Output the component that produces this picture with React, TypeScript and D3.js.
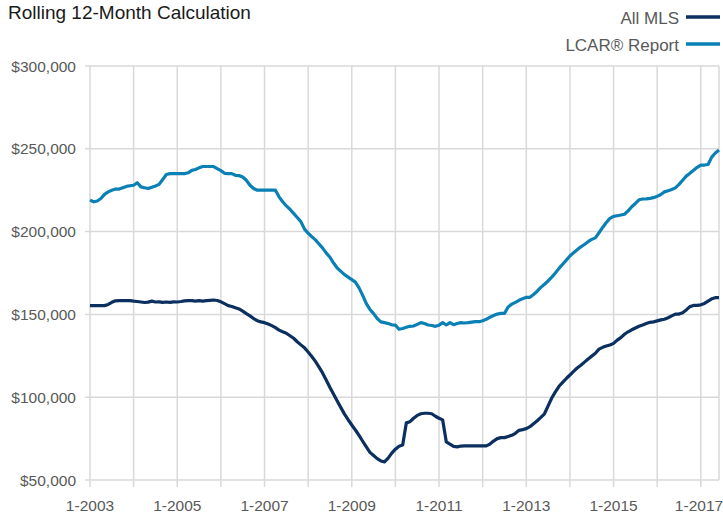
import { useEffect, useRef } from "react";
import * as d3 from "d3";

// monthly rolling 12-month values, 1-2003 .. 6-2017 (thousands of $)
const startYear = 2003;

const allMls = [
  155.3, 155.3, 155.3, 155.3, 155.3, 156, 157.3, 158.2, 158.3, 158.3, 158.3, 158.3,
  158, 157.8, 157.5, 157.2, 157.4, 158, 157.5, 157.6, 157.3, 157.5, 157.3, 157.6,
  157.5, 157.8, 158.2, 158.3, 158.3, 158, 158.3, 158, 158.3, 158.5, 158.7, 158.4,
  157.6, 156.5, 155.3, 154.8, 154, 153.3, 152, 150.5, 149.1, 147.5, 146.2, 145.5,
  145, 144.2, 143.2, 142, 140.5, 139.5, 138.6, 137.1, 135.6, 133.5, 131.6, 129.8,
  127.3, 124.6, 121.6, 118.2, 114.5, 110.3, 105.9, 101.8, 97.7, 93.7, 89.8, 86.4,
  83.2, 80.2, 76.9, 73.4, 70, 66.7, 64.8, 62.9, 61.5, 60.9, 63.2, 66.2,
  68.6, 70.4, 71.1, 84.5, 85.2, 87.3, 89, 90, 90.3, 90.3, 90, 88.5,
  87.3, 86.3, 73, 71.7, 70.3, 70, 70.5, 70.6, 70.6, 70.6, 70.6, 70.6,
  70.6, 70.6, 71.7, 73.5, 75, 75.6, 75.6, 76.3, 77, 78.2, 80, 80.4,
  81, 82.2, 84, 85.8, 87.8, 90, 94.8, 99.5, 103.2, 106.6, 109, 111.3,
  113.4, 115.6, 117.6, 119.3, 121.2, 123.1, 124.8, 126.5, 129, 130.1, 130.9, 131.5,
  132.5, 134.5, 136, 138, 139.5, 140.7, 141.8, 142.8, 143.6, 144.5, 145.2, 145.5,
  146.1, 146.7, 147.1, 148, 149.1, 150.2, 150.2, 151, 152.7, 154.7, 155.4, 155.5,
  155.8, 156.6, 158, 159.4, 160.1, 160.1
];

const lcarReport = [
  219, 218, 218.5, 220, 222.5, 224, 225, 225.7, 225.7, 226.5, 227.3, 227.7,
  228, 229.5, 227, 226.5, 226, 226.8, 227.5, 228.5, 231.5, 234.5, 235, 235,
  235, 235, 235, 235.5, 237, 237.5, 238.5, 239.3, 239.3, 239.3, 239.3, 238,
  236.8, 235.2, 235, 235, 234, 233.8, 233, 231, 228, 226, 225, 225,
  225, 225, 225, 225, 221, 218, 215.5, 213.5, 211, 208.5, 206, 201.5,
  199, 197, 195, 192.5, 190, 187, 184.5, 181, 178, 176, 174, 172.5,
  171, 169.5, 166, 161.5, 156.5, 153, 150.5, 147.5, 145.5, 145, 144.5, 143.7,
  143.5, 141, 141.5, 142.2, 142.8, 143, 144, 145, 144.5, 143.6, 143.3, 142.8,
  143.5, 145, 143.6, 145, 143.8, 144.5, 145, 144.8, 145, 145.3, 145.6, 145.6,
  146.2, 147, 148.3, 149.3, 150.2, 150.6, 150.6, 154.5, 156.2, 157.3, 158.5, 159.5,
  160.3, 160.3, 162, 164, 166.3, 168.2, 170.2, 172.5, 175, 177.8, 180.3, 182.8,
  185.3, 187.2, 189, 190.8, 192.2, 193.9, 195.3, 196.2, 199.3, 202.5, 205.5, 208,
  209.2, 209.6, 210, 210.5, 212.5, 215, 217, 219.2, 219.7, 219.8, 220.1, 220.5,
  221.3, 222.4, 224, 224.7, 225.4, 226.4, 228.5, 231, 233.5, 235.2, 237, 238.8,
  240.2, 240.2, 240.5, 245, 247.5, 249.3
];

const yTicks = [50000, 100000, 150000, 200000, 250000, 300000];
const xLabelYears = [2003, 2005, 2007, 2009, 2011, 2013, 2015, 2017];

const series = [
  { name: "All MLS", values: allMls, color: "#0b2f5f" },
  { name: "LCAR® Report", values: lcarReport, color: "#0a80b4" },
];

const W = 723;
const H = 515;
const margin = { top: 66, right: 4, bottom: 35, left: 90 };
const font = "'Liberation Sans', Arial, sans-serif";

const App = () => {
  const ref = useRef<SVGSVGElement>(null);

  useEffect(() => {
    document.body.style.margin = "0";
    const svg = d3.select(ref.current);
    svg.selectAll("*").remove();

    const n = allMls.length;
    const x = d3.scaleLinear().domain([0, n - 1]).range([margin.left, W - margin.right]);
    const y = d3.scaleLinear().domain([50000, 300000]).range([H - margin.bottom, margin.top]);

    const grid = svg.append("g").attr("stroke", "#d9d9d9").attr("stroke-width", 1.5);

    // horizontal grid with little ticks to the left
    grid.selectAll("line.h")
      .data(yTicks)
      .enter()
      .append("line")
      .attr("x1", margin.left - 5)
      .attr("x2", x(n - 1))
      .attr("y1", (d) => y(d))
      .attr("y2", (d) => y(d));

    // vertical grid every January, plus the right edge
    const vMonths = d3.range(0, n, 12).concat([n - 1]);
    grid.selectAll("line.v")
      .data(vMonths)
      .enter()
      .append("line")
      .attr("x1", (d) => x(d))
      .attr("x2", (d) => x(d))
      .attr("y1", margin.top)
      .attr("y2", (d) => (d === n - 1 ? y(50000) : y(50000) + 7));

    // y labels
    svg.append("g")
      .selectAll("text")
      .data(yTicks)
      .enter()
      .append("text")
      .attr("x", 76)
      .attr("y", (d) => y(d) + 5.5)
      .attr("text-anchor", "end")
      .attr("font-family", font)
      .attr("font-size", 15.5)
      .attr("fill", "#595959")
      .text((d) => "$" + d3.format(",")(d));

    // x labels (last one kept inside the right edge)
    svg.append("g")
      .selectAll("text")
      .data(xLabelYears)
      .enter()
      .append("text")
      .attr("x", (d) => Math.min(x((d - startYear) * 12), W - 24))
      .attr("y", 511)
      .attr("text-anchor", "middle")
      .attr("font-family", font)
      .attr("font-size", 15.5)
      .attr("fill", "#595959")
      .text((d) => "1-" + d);

    // lines
    const line = d3.line<number>()
      .x((_, i) => x(i))
      .y((d) => y(d * 1000));

    series.forEach((s) => {
      svg.append("path")
        .datum(s.values)
        .attr("fill", "none")
        .attr("stroke", s.color)
        .attr("stroke-width", 3.2)
        .attr("stroke-linejoin", "round")
        .attr("d", line);
    });

    // title
    svg.append("text")
      .attr("x", 8)
      .attr("y", 19)
      .attr("font-family", font)
      .attr("font-size", 19)
      .attr("fill", "#1a1a1a")
      .text("Rolling 12-Month Calculation");

    // legend
    const legend = svg.append("g");
    series.forEach((s, i) => {
      const ly = 17 + i * 27;
      legend.append("text")
        .attr("x", 679)
        .attr("y", ly + 6.5)
        .attr("text-anchor", "end")
        .attr("font-family", font)
        .attr("font-size", 17)
        .attr("fill", "#595959")
        .text(s.name);
      legend.append("line")
        .attr("x1", 686)
        .attr("x2", 720)
        .attr("y1", ly)
        .attr("y2", ly)
        .attr("stroke", s.color)
        .attr("stroke-width", 3.5);
    });
  }, []);

  return <svg ref={ref} width={W} height={H} style={{ display: "block" }}></svg>;
};

export default App;
